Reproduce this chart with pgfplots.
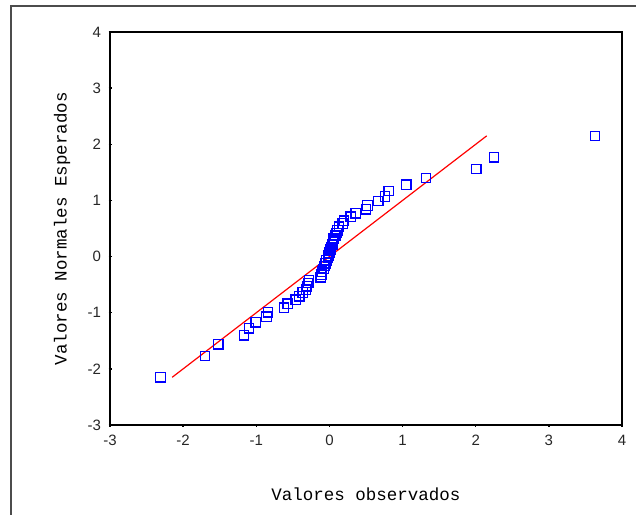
\documentclass[border=0pt]{standalone}
\usepackage{fontspec}
\setmainfont{Liberation Sans}
\newfontfamily\labfont{Liberation Mono}
\usepackage{pgfplots}
\pgfplotsset{compat=1.18}
\begin{document}
\begin{tikzpicture}[x=1pt,y=1pt]
\path[use as bounding box] (0,0) rectangle (636,514);
\draw[line width=1.2pt, color=black!70] (11,-5) -- (11,508) -- (641,508);
\begin{axis}[
  at={(110pt,89pt)}, anchor=south west,
  scale only axis, width=512pt, height=393pt,
  xmin=-3, xmax=4, ymin=-3, ymax=4,
  xtick={-3,-2,-1,0,1,2,3,4}, ytick={-3,-2,-1,0,1,2,3,4},
  xtick pos=bottom, ytick pos=left,
  major tick length=3pt, tick align=center,
  tick style={line width=1.5pt, black},
  axis line style={line width=1.3pt, black},
  /pgf/number format/assume math mode=true,
  tick label style={font=\fontsize{15}{18}\selectfont, text=black!85},
  xticklabel style={yshift=-5pt},
  yticklabel style={xshift=-4pt},
  xlabel={\labfont Valores observados},
  ylabel={\labfont Valores Normales Esperados},
  xlabel style={at={(axis description cs:0.5,-0.1756)}, anchor=center, font=\fontsize{17.5}{20}\selectfont},
  ylabel style={at={(axis description cs:-0.0938,0.5)}, anchor=center, rotate=0, font=\fontsize{17.5}{20}\selectfont},
  clip=false,
]
\addplot[red, line width=1.2pt, no marks] coordinates {(-2.15,-2.15) (2.15,2.15)};
\addplot[only marks, mark=square, mark size=4.7pt, color=blue, mark options={line width=1.3pt, fill=none}] coordinates {
(-2.31,-2.15) (-1.70,-1.77) (-1.52,-1.56) (-1.17,-1.40) (-1.10,-1.28)
(-1.01,-1.17) (-0.86,-1.07) (-0.84,-0.99) (-0.62,-0.91) (-0.57,-0.84)
(-0.46,-0.77) (-0.41,-0.71) (-0.365,-0.64) (-0.32,-0.59) (-0.305,-0.53)
(-0.29,-0.47) (-0.28,-0.42) (-0.12,-0.37) (-0.11,-0.32) (-0.10,-0.27)
(-0.08,-0.22) (-0.07,-0.17) (-0.05,-0.12) (-0.04,-0.07) (-0.02,-0.02)
(-0.01,0.02) (0.00,0.07) (0.01,0.12) (0.02,0.17) (0.04,0.22)
(0.05,0.27) (0.06,0.32) (0.08,0.37) (0.10,0.42) (0.11,0.47)
(0.13,0.53) (0.18,0.59) (0.20,0.64) (0.29,0.71) (0.36,0.77)
(0.50,0.84) (0.52,0.91) (0.67,0.99) (0.76,1.07) (0.81,1.17)
(1.05,1.28) (1.32,1.40) (2.01,1.56) (2.25,1.77) (3.63,2.15)
};
\end{axis}
\end{tikzpicture}
\end{document}
